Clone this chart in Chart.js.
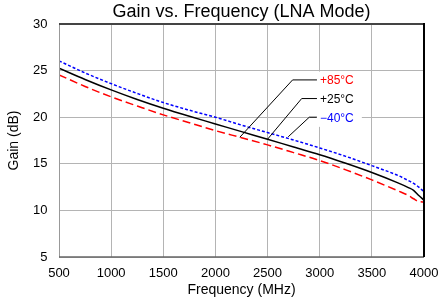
<!DOCTYPE html>
<html>
<head>
<meta charset="utf-8">
<script src="https://cdn.jsdelivr.net/npm/chart.js@4.4.0/dist/chart.umd.min.js"></script>
<style>
  html, body { margin: 0; padding: 0; background: #fff; }
  #wrap { width: 439px; height: 302px; }
</style>
</head>
<body>
<div id="wrap"><canvas id="myChart"></canvas></div>
<script>
// frequency points (MHz)
const freqs = [500, 750, 1000, 1250, 1500, 1750, 2000, 2250, 2500, 2750, 3000, 3250, 3500, 3750, 3850, 3900, 3950, 4000];

// gain (dB) per temperature
const gain85 = [24.54, 23.3, 22.18, 21.2, 20.25, 19.4, 18.56, 17.8, 17.03, 16.2, 15.35, 14.35, 13.27, 12.1, 11.6, 11.25, 10.95, 10.9];
const gain25 = [25.26, 24.05, 22.93, 21.9, 20.96, 20.1, 19.28, 18.45, 17.64, 16.8, 15.98, 15.05, 14.06, 12.95, 12.45, 12.15, 11.6, 11.1];
const gainM40 = [26.04, 24.75, 23.6, 22.55, 21.57, 20.75, 20.0, 19.15, 18.35, 17.55, 16.7, 15.8, 14.8, 13.75, 13.2, 12.9, 12.5, 12.0];

// axis ticks
const xTicks = [500, 1000, 1500, 2000, 2500, 3000, 3500, 4000];
const yTicks = [5, 10, 15, 20, 25, 30];

// curve labels: text, colour, label level (dB), leader start freq, point on curve (freq, dB)
const labelText = ['+85°C', '+25°C', '\u221240°C'];
const labelColor = ['#ff0000', '#000000', '#0000ff'];
const labelLevel = [24, 22, 20];
const leaderStart = [2740, 2827, 2900];
const curveFreq = [2234, 2500, 2698];
const curveGain = [17.85, 17.64, 17.9];

// white box behind the labels (data units)
const boxFreq = [2964, 3404];
const boxGain = [19.07, 25];

const toPoints = (ys) => freqs.map((f, i) => ({ x: f, y: ys[i] }));

const labelPlugin = {
  id: 'curveLabels',
  beforeDatasetsDraw(chart) {
    const { ctx, scales: { x, y } } = chart;
    ctx.save();
    ctx.fillStyle = '#ffffff';
    const x0 = x.getPixelForValue(boxFreq[0]);
    const x1 = x.getPixelForValue(boxFreq[1]);
    const y0 = y.getPixelForValue(boxGain[1]);
    const y1 = y.getPixelForValue(boxGain[0]);
    ctx.fillRect(x0, y0 + 1, x1 - x0, y1 - y0);
    ctx.restore();
  },
  afterDatasetsDraw(chart) {
    const { ctx, scales: { x, y } } = chart;
    ctx.save();
    // plot frame
    const a = chart.chartArea;
    ctx.lineWidth = 1;
    ctx.strokeStyle = '#999';
    ctx.beginPath(); ctx.moveTo(a.left + 0.5, a.top); ctx.lineTo(a.left + 0.5, a.bottom); ctx.stroke();
    ctx.lineWidth = 1.5;
    ctx.strokeStyle = '#666';
    ctx.beginPath(); ctx.moveTo(a.left, a.bottom); ctx.lineTo(a.right, a.bottom); ctx.stroke();
    ctx.lineWidth = 2;
    ctx.strokeStyle = '#444';
    ctx.beginPath(); ctx.moveTo(a.left, a.top); ctx.lineTo(a.right, a.top); ctx.stroke();
    ctx.strokeStyle = '#000';
    ctx.beginPath(); ctx.moveTo(a.right, a.top - 1); ctx.lineTo(a.right, a.bottom); ctx.stroke();

    // leaders and texts
    const boxLeft = x.getPixelForValue(boxFreq[0]);
    ctx.font = '12px "Liberation Sans", Arial, sans-serif';
    ctx.textBaseline = 'middle';
    ctx.textAlign = 'left';
    for (let i = 0; i < labelText.length; i++) {
      const ly = y.getPixelForValue(labelLevel[i]);
      const sx = x.getPixelForValue(leaderStart[i]);
      ctx.strokeStyle = '#000';
      ctx.lineWidth = 1;
      ctx.beginPath();
      ctx.moveTo(x.getPixelForValue(curveFreq[i]), y.getPixelForValue(curveGain[i]));
      ctx.lineTo(sx, ly);
      ctx.lineTo(boxLeft + 1, ly);
      ctx.stroke();
      ctx.fillStyle = labelColor[i];
      ctx.fillText(labelText[i], boxLeft + 4, ly + 1);
    }
    ctx.restore();
  }
};

const ctx = document.getElementById('myChart').getContext('2d');
const myChart = new Chart(ctx, {
  type: 'line',
  data: {
    datasets: [
      {
        label: '+85°C',
        data: toPoints(gain85),
        borderColor: '#ff0000',
        borderWidth: 1.5,
        borderDash: [8, 4],
        pointRadius: 0,
        cubicInterpolationMode: 'monotone',
      },
      {
        label: '+25°C',
        data: toPoints(gain25),
        borderColor: '#000000',
        borderWidth: 1.5,
        pointRadius: 0,
        cubicInterpolationMode: 'monotone',
      },
      {
        label: '-40°C',
        data: toPoints(gainM40),
        borderColor: '#0000ff',
        borderWidth: 1.5,
        borderDash: [3, 2],
        pointRadius: 0,
        cubicInterpolationMode: 'monotone',
      },
    ],
  },
  options: {
    responsive: true,
    maintainAspectRatio: false,
    animation: false,
    layout: { padding: { left: 0, right: 15, top: 0, bottom: 0 } },
    plugins: {
      legend: { display: false },
      tooltip: { enabled: false },
      title: {
        display: true,
        text: 'Gain vs. Frequency (LNA Mode)',
        fullSize: false,
        color: '#000',
        font: { family: '"Liberation Sans", Arial, sans-serif', size: 18, weight: 'normal', lineHeight: 1.2 },
        padding: { top: 1, bottom: 1.4 },
      },
    },
    scales: {
      x: {
        type: 'linear',
        min: xTicks[0],
        max: xTicks[xTicks.length - 1],
        afterBuildTicks: (axis) => { axis.ticks = xTicks.map((v) => ({ value: v })); },
        afterFit: (axis) => { axis.height = 45; axis.paddingLeft = 0; axis.paddingRight = 0; },
        grid: { color: '#b4b4b4', lineWidth: 1, drawTicks: false },
        border: { display: false },
        ticks: {
          color: '#000',
          padding: 9,
          maxRotation: 0,
          callback: (v) => String(v),
          font: { family: '"Liberation Sans", Arial, sans-serif', size: 13 },
        },
        title: {
          display: true,
          text: 'Frequency (MHz)',
          color: '#000',
          font: { family: '"Liberation Sans", Arial, sans-serif', size: 14, lineHeight: 1.2 },
          padding: { top: 0, bottom: 3 },
        },
      },
      y: {
        min: yTicks[0],
        max: yTicks[yTicks.length - 1],
        afterBuildTicks: (axis) => { axis.ticks = yTicks.map((v) => ({ value: v })); },
        afterFit: (axis) => { axis.width = 59; axis.paddingTop = 0; axis.paddingBottom = 0; },
        grid: { color: '#b4b4b4', lineWidth: 1, drawTicks: false },
        border: { display: false },
        ticks: {
          color: '#000',
          padding: 11.5,
          callback: (v) => String(v),
          font: { family: '"Liberation Sans", Arial, sans-serif', size: 13 },
        },
        title: {
          display: true,
          text: 'Gain (dB)',
          color: '#000',
          font: { family: '"Liberation Sans", Arial, sans-serif', size: 14, lineHeight: 1.2 },
          padding: { top: 6, bottom: 0 },
        },
      },
    },
  },
  plugins: [labelPlugin],
});
</script>
</body>
</html>
